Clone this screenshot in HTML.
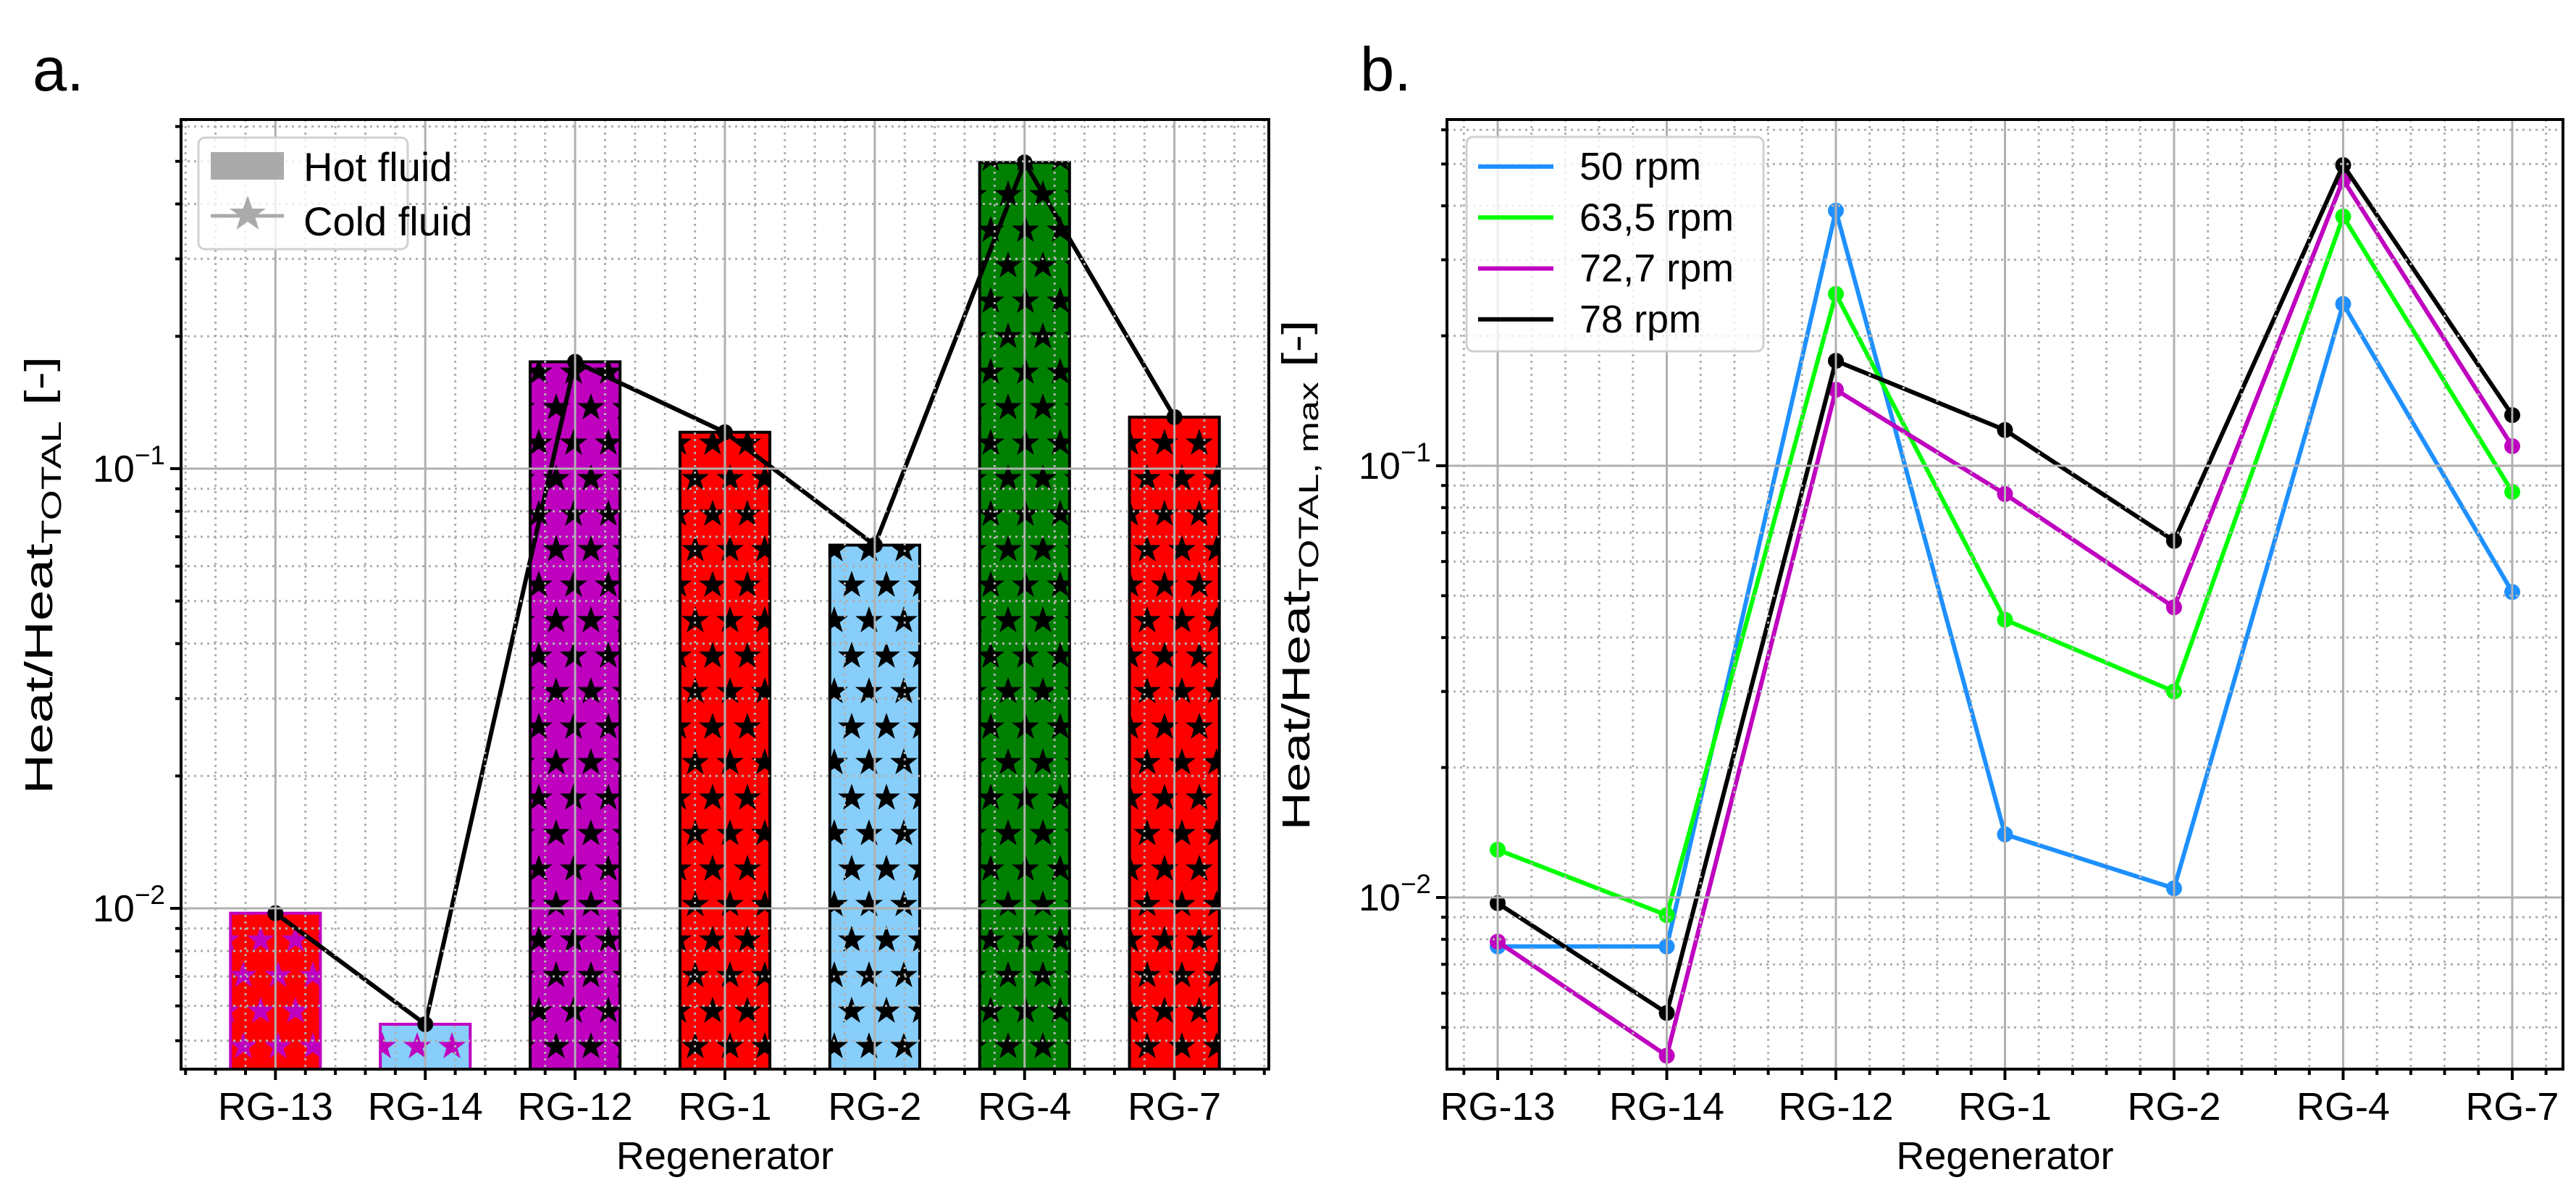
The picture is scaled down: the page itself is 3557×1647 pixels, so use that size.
<!DOCTYPE html>
<html><head><meta charset="utf-8">
<style>
html,body{margin:0;padding:0;background:#fff;}
svg{display:block;}
text{font-family:"Liberation Sans",sans-serif;fill:#000;}
</style></head>
<body>
<svg id="fig" width="3557" height="1647" viewBox="0 0 3557 1647" xmlns="http://www.w3.org/2000/svg">
<defs>
<pattern id="starBlack" patternUnits="userSpaceOnUse" width="48" height="98">
<polygon points="24,4 28.7,17.5 43,17.5 31.6,26.2 35.8,40 24,31.5 12.2,40 16.4,26.2 5,17.5 19.3,17.5" fill="#000"/>
<polygon points="0,53 4.7,66.5 19,66.5 7.6,75.2 11.8,89 0,80.5 -11.8,89 -7.6,75.2 -19,66.5 -4.7,66.5" fill="#000"/>
<polygon points="48,53 52.7,66.5 67,66.5 55.6,75.2 59.8,89 48,80.5 36.2,89 40.4,75.2 29,66.5 43.3,66.5" fill="#000"/>
</pattern>
<pattern id="starMag" patternUnits="userSpaceOnUse" width="48" height="98">
<polygon points="24,4 28.7,17.5 43,17.5 31.6,26.2 35.8,40 24,31.5 12.2,40 16.4,26.2 5,17.5 19.3,17.5" fill="#bf00bf"/>
<polygon points="0,53 4.7,66.5 19,66.5 7.6,75.2 11.8,89 0,80.5 -11.8,89 -7.6,75.2 -19,66.5 -4.7,66.5" fill="#bf00bf"/>
<polygon points="48,53 52.7,66.5 67,66.5 55.6,75.2 59.8,89 48,80.5 36.2,89 40.4,75.2 29,66.5 43.3,66.5" fill="#bf00bf"/>
</pattern>
</defs>
<text x="45" y="125" font-size="85">a.</text>
<text x="1878" y="125" font-size="85">b.</text>
<g id="pa"></g>
<g id="pb"></g>
</svg>
<script>
// ---- data ----
const categories = ["RG-13","RG-14","RG-12","RG-1","RG-2","RG-4","RG-7"];
const barValues = [0.00975,0.00545,0.175,0.121,0.067,0.497,0.131];
const barColors = ["#ff0000","#87cefa","#bf00bf","#ff0000","#87cefa","#008000","#ff0000"];
const barEdge = ["#bf00bf","#bf00bf","#000","#000","#000","#000","#000"];
const barHatch = ["starMag","starMag","starBlack","starBlack","starBlack","starBlack","starBlack"];
const coldValues = [0.00975,0.00545,0.175,0.121,0.067,0.497,0.131];
const rpm50 = [0.0077,0.0077,0.39,0.014,0.0105,0.237,0.051];
const rpm635 = [0.0129,0.0091,0.25,0.044,0.030,0.378,0.087];
const rpm727 = [0.0079,0.0043,0.15,0.086,0.047,0.46,0.111];
const rpm78 = [0.0097,0.0054,0.175,0.121,0.067,0.497,0.131];
const seriesNames = ["50 rpm","63,5 rpm","72,7 rpm","78 rpm"];
const seriesColors = ["#1e90ff","#00ff00","#bf00bf","#000000"];
const yTickExps = [-1,-2];

const NS="http://www.w3.org/2000/svg";
function mk(parent,tag,attrs){const e=document.createElementNS(NS,tag);for(const k in attrs)e.setAttribute(k,attrs[k]);parent.appendChild(e);return e;}

function makeAxes(g, cfg){
  const {L,R,T,B,xmin,xmax,y1,y2} = cfg;
  const dec = y2-y1;
  const X = v => L + (v-xmin)/(xmax-xmin)*(R-L);
  const Y = v => y1 - (Math.log10(v)+1)*dec;
  const ymin = Math.pow(10, -1 - (B-y1)/dec), ymax = Math.pow(10, -1 + (y1-T)/dec);
  return {X,Y,ymin,ymax,dec};
}

function drawGrid(g, cfg, ax, name){
  const {L,R,T,B,xmin,xmax} = cfg;
  const grid = mk(g,'g',{});
  
  
  for(let k=Math.ceil(xmin*5);k<=Math.floor(xmax*5);k++){
    const v=k/5; if(Math.abs(v-Math.round(v))<1e-6 && v>=0 && v<=6) continue;
    const x=ax.X(v);
    mk(grid,'line',{x1:x,x2:x,y1:T,y2:B,stroke:'#b0b0b0','stroke-width':3,'stroke-dasharray':'3 6'});
  }
  for(let e=-3;e<=0;e++){for(let m=2;m<=9;m++){const v=m*Math.pow(10,e);if(v<ax.ymin||v>ax.ymax)continue;const y=ax.Y(v);
    mk(grid,'line',{x1:L,x2:R,y1:y,y2:y,stroke:'#b0b0b0','stroke-width':3,'stroke-dasharray':'3 6'});}}
  categories.forEach((c,i)=>{const x=ax.X(i);mk(grid,'line',{x1:x,x2:x,y1:T,y2:B,stroke:'#b0b0b0','stroke-width':3});});
  yTickExps.forEach(e=>{const y=ax.Y(Math.pow(10,e));mk(grid,'line',{x1:L,x2:R,y1:y,y2:y,stroke:'#b0b0b0','stroke-width':3});});
}

function drawFrame(g,cfg,ax,name,ylabelParts,ylabelX,ylabelLen){
  const {L,R,T,B,xmin,xmax} = cfg;
  const fr = mk(g,'rect',{x:L,y:T,width:R-L,height:B-T,fill:'none',stroke:'#000','stroke-width':4});
  
  
  for(let k=Math.ceil(xmin*5);k<=Math.floor(xmax*5);k++){const v=k/5;const x=ax.X(v);
    const major=Math.abs(v-Math.round(v))<1e-6 && v>=0 && v<=6;
    mk(g,'line',{x1:x,x2:x,y1:B,y2:B+(major?15:8),stroke:'#000','stroke-width':4});}
  categories.forEach((c,i)=>{
    const t=mk(g,'text',{x:ax.X(i),y:1546,'font-size':54,'text-anchor':'middle'});
    t.textContent=c;
    
    
  });
  for(let e=-3;e<=0;e++){for(let m=1;m<=9;m++){const v=m*Math.pow(10,e);if(v<ax.ymin||v>ax.ymax)continue;const y=ax.Y(v);
    mk(g,'line',{x1:L,x2:L-(m===1?15:8),y1:y,y2:y,stroke:'#000','stroke-width':4});}}
  yTickExps.forEach(e=>{
    const y=ax.Y(Math.pow(10,e));
    const t=mk(g,'text',{x:L-22,y:y+18,'font-size':52,'text-anchor':'end'});
    
    
    const a=mk(t,'tspan',{}); a.textContent='10';
    const b=mk(t,'tspan',{dy:-24,'font-size':37}); b.textContent='\u2212'+(-e);
  });
  const xl=mk(g,'text',{x:(L+R)/2,y:1614,'font-size':54,'text-anchor':'middle'});
  xl.textContent='Regenerator';
  
  
  const yl=mk(g,'text',{'font-size':54,'text-anchor':'middle'});
  
  
  const p1=mk(yl,'tspan',{});p1.textContent='Heat/Heat';
  const p2=mk(yl,'tspan',{dy:12,'font-size':38});p2.textContent=ylabelParts;
  const p3=mk(yl,'tspan',{dy:-12});p3.textContent=' [-]';
  const len=yl.getComputedTextLength()||420;
  const s=ylabelLen/len;
  yl.setAttribute('transform','translate('+ylabelX+',794) rotate(-90) scale('+s.toFixed(3)+',1)');
}

// ---------- Panel a ----------
const ga=document.getElementById('pa');


const cfgA={L:250,R:1752,T:165,B:1476,xmin:-0.63,xmax:6.63,y1:647,y2:1254};
const axA=makeAxes(ga,cfgA);
const barsG=mk(ga,'g',{});


barValues.forEach((v,i)=>{
  const x0=axA.X(i-0.3), x1=axA.X(i+0.3), yt=axA.Y(v);
  const r=mk(barsG,'rect',{x:x0,y:yt,width:x1-x0,height:cfgA.B-yt,fill:barColors[i]});
  
  
  mk(barsG,'rect',{x:x0,y:yt,width:x1-x0,height:cfgA.B-yt,fill:'url(#'+barHatch[i]+')',stroke:barEdge[i],'stroke-width':4});
});
const lineA=mk(ga,'polyline',{points:coldValues.map((v,i)=>axA.X(i)+','+axA.Y(v)).join(' '),fill:'none',stroke:'#000','stroke-width':6,'stroke-linejoin':'round'});


coldValues.forEach((v,i)=>{
  const c=mk(ga,'circle',{cx:axA.X(i),cy:axA.Y(v),r:11,fill:'#000'});
  
  
});
drawGrid(ga,cfgA,axA,'panel-a');
drawFrame(ga,cfgA,axA,'panel-a','TOTAL',72,605);
const lgA=mk(ga,'g',{});


mk(lgA,'rect',{x:274,y:190,width:289,height:154,rx:9,fill:'#fff','fill-opacity':0.8,stroke:'#d0d0d0','stroke-width':3});
const le1=mk(lgA,'g',{});


mk(le1,'rect',{x:291,y:210,width:101,height:38,fill:'#aaaaaa'});
const t1=mk(le1,'text',{x:419,y:250,'font-size':56});t1.textContent='Hot fluid';
const le2=mk(lgA,'g',{});


mk(le2,'line',{x1:291,x2:392,y1:298,y2:298,stroke:'#aaaaaa','stroke-width':5});
mk(le2,'polygon',{points:'342,270 348.5,288 367,288 352,299 357.5,317 342,306 326.5,317 332,299 317,288 335.5,288',fill:'#aaaaaa'});
const t2=mk(le2,'text',{x:419,y:325,'font-size':56});t2.textContent='Cold fluid';

// ---------- Panel b ----------
const gb=document.getElementById('pb');


const cfgB={L:1998,R:3539,T:165,B:1476,xmin:-0.3,xmax:6.3,y1:643,y2:1239};
const axB=makeAxes(gb,cfgB);
const allSeries=[rpm50,rpm635,rpm727,rpm78];
allSeries.forEach((s,k)=>{
  const sg=mk(gb,'g',{});
  
  
  mk(sg,'polyline',{points:s.map((v,i)=>axB.X(i)+','+axB.Y(v)).join(' '),fill:'none',stroke:seriesColors[k],'stroke-width':6,'stroke-linejoin':'round'});
  s.forEach((v,i)=>{mk(sg,'circle',{cx:axB.X(i),cy:axB.Y(v),r:11,fill:seriesColors[k]});});
});
drawGrid(gb,cfgB,axB,'panel-b');
drawFrame(gb,cfgB,axB,'panel-b','TOTAL, max',1808,705);
const lgB=mk(gb,'g',{});


mk(lgB,'rect',{x:2025,y:189,width:410,height:296,rx:9,fill:'#fff','fill-opacity':0.8,stroke:'#d0d0d0','stroke-width':3});
seriesNames.forEach((n,k)=>{
  const e=mk(lgB,'g',{});
  
  
  const y=230+k*70.3;
  mk(e,'line',{x1:2041,x2:2145,y1:y,y2:y,stroke:seriesColors[k],'stroke-width':6});
  const t=mk(e,'text',{x:2181,y:y+18,'font-size':54});t.textContent=n;
});
</script>
</body></html>
